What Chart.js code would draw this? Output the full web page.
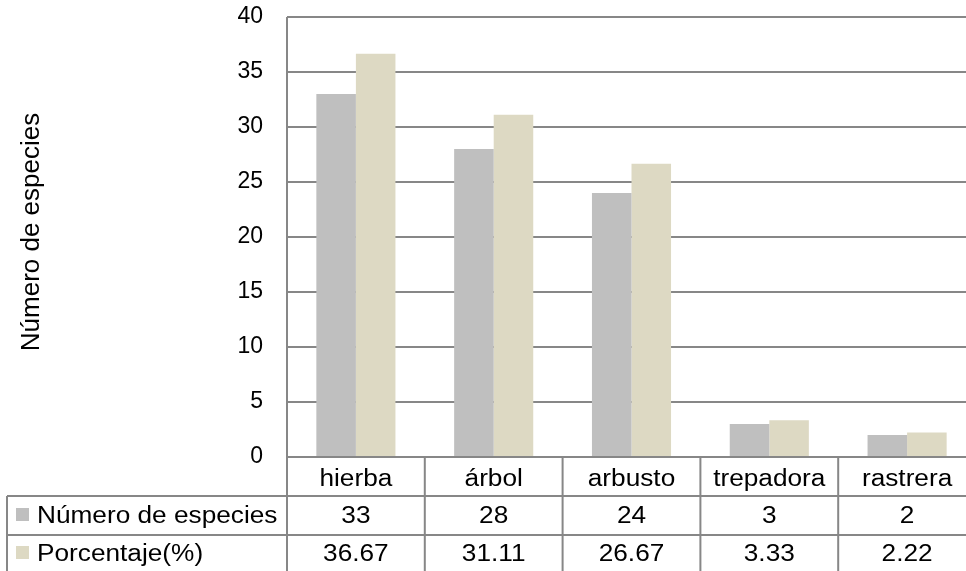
<!DOCTYPE html>
<html>
<head>
<meta charset="utf-8">
<script src="https://cdn.jsdelivr.net/npm/chart.js@4"></script>
<style>
  html, body { margin: 0; padding: 0; background: #fff; overflow: hidden; }
  #wrap { width: 980px; height: 571px; }
</style>
</head>
<body>
<div id="wrap"><canvas id="chart" width="980" height="571"></canvas></div>
<script>
const categories = ['hierba', 'árbol', 'arbusto', 'trepadora', 'rastrera'];
const numEspecies = [33, 28, 24, 3, 2];
const porcentaje = [36.67, 31.11, 26.67, 3.33, 2.22];
const seriesNames = ['Número de especies', 'Porcentaje(%)'];
const seriesColors = ['#bfbfbf', '#ddd9c3'];
const yTitle = 'Número de especies';

const lineColor = '#878787';
const fontFamily = '"Liberation Sans", Arial, sans-serif';

// table text is a little wide, like the old office export
function wideText(ctx, text, x, y, align) {
    ctx.save();
    ctx.translate(x, y);
    ctx.scale(1.14, 1);
    ctx.textAlign = align;
    ctx.fillText(text, 0, 0);
    ctx.restore();
}

// table under the plot: category row + one row per series, with legend keys
const dataTable = {
    id: 'dataTable',
    afterDraw(chart) {
        const { ctx, chartArea: area, scales: { x } } = chart;
        const rowH = 39;
        const colW = (area.right - area.left) / categories.length;
        const tableLeft = 7;
        const bottom = chart.height + 5;
        const rows = [numEspecies, porcentaje];
        const baselines = [29, 66, 104].map(d => area.bottom + d);

        ctx.save();
        ctx.strokeStyle = lineColor;
        ctx.lineWidth = 2;
        ctx.beginPath();
        // axis line continues down through the table
        ctx.moveTo(area.left, area.top);
        ctx.lineTo(area.left, bottom);
        for (let i = 1; i <= categories.length; i++) {
            const xx = area.left + i * colW;
            ctx.moveTo(xx, area.bottom);
            ctx.lineTo(xx, bottom);
        }
        for (let r = 1; r <= rows.length; r++) {
            const yy = area.bottom + r * rowH;
            ctx.moveTo(tableLeft, yy);
            ctx.lineTo(area.right, yy);
        }
        ctx.moveTo(tableLeft, area.bottom + rowH);
        ctx.lineTo(tableLeft, bottom);
        ctx.stroke();

        ctx.fillStyle = '#000';
        ctx.font = '23px ' + fontFamily;
        ctx.textBaseline = 'alphabetic';
        categories.forEach((c, i) => {
            wideText(ctx, c, x.getPixelForValue(i), baselines[0], 'center');
        });
        rows.forEach((vals, r) => {
            vals.forEach((v, i) => {
                wideText(ctx, String(v), x.getPixelForValue(i), baselines[r + 1], 'center');
            });
        });

        // legend keys
        seriesNames.forEach((name, r) => {
            const by = baselines[r + 1];
            ctx.fillStyle = seriesColors[r];
            ctx.fillRect(16, by - 15, 13, 13);
            ctx.fillStyle = '#000';
            wideText(ctx, name, 37, by, 'left');
        });

        // vertical axis title
        ctx.font = '26px ' + fontFamily;
        ctx.textBaseline = 'middle';
        ctx.translate(32, 232);
        ctx.rotate(-Math.PI / 2);
        ctx.textAlign = 'center';
        ctx.fillText(yTitle, 0, 0);
        ctx.restore();
    }
};

new Chart(document.getElementById('chart'), {
    type: 'bar',
    data: {
        labels: categories,
        datasets: [
            { label: seriesNames[0], data: numEspecies, backgroundColor: seriesColors[0] },
            { label: seriesNames[1], data: porcentaje, backgroundColor: seriesColors[1] }
        ]
    },
    options: {
        responsive: false,
        animation: false,
        events: [],
        layout: { padding: { top: 17, right: 4, bottom: 114, left: 0 } },
        datasets: { bar: { barPercentage: 1, categoryPercentage: 0.574 } },
        plugins: { legend: { display: false }, tooltip: { enabled: false } },
        scales: {
            x: { display: false },
            y: {
                min: 0,
                max: 40,
                ticks: {
                    stepSize: 5,
                    padding: 24,
                    color: '#000',
                    font: { family: fontFamily, size: 23 }
                },
                grid: { color: lineColor, lineWidth: 2, drawTicks: false },
                border: { display: false },
                afterFit: (s) => {
                    s.width = 287;
                    s.paddingTop = 0;
                    s.paddingBottom = 0;
                }
            }
        }
    },
    plugins: [dataTable]
});
</script>
</body>
</html>
